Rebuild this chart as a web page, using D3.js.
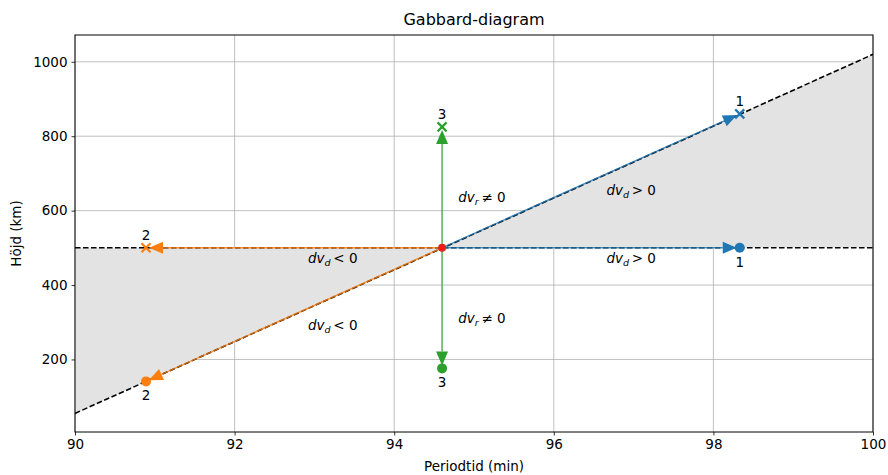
<!DOCTYPE html>
<html>
<head>
<meta charset="utf-8">
<script src="https://cdn.jsdelivr.net/npm/d3@7"></script>
<style>
  body { margin: 0; background: #fff; }
  svg text { font-family: "DejaVu Sans", sans-serif; fill: #000; }
</style>
</head>
<body>
<svg id="chart" width="888" height="475"></svg>
<script>
// axis ranges and ticks
const xDomain = [90, 100];
const yDomain = [5, 1072];
const xTicks = [90, 92, 94, 96, 98, 100];
const yTicks = [200, 400, 600, 800, 1000];

// the Gabbard line (height against period) and the reference height
const lineX = [90, 100];
const lineY = [55, 1020];
const refHeight = 500;

// starting point of the fragments
const center = { x: 94.6, y: 500 };

// fragments: label, colour, period, height, marker
const fragLabels = ['1', '1', '2', '2', '3', '3'];
const fragColors = ['#1f77b4', '#1f77b4', '#ff7f0e', '#ff7f0e', '#2ca02c', '#2ca02c'];
const fragX = [98.33, 98.33, 90.89, 90.89, 94.6, 94.6];
const fragY = [860, 500, 500, 141, 825, 176];
const fragMarker = ['x', 'o', 'x', 'o', 'x', 'o'];

// annotation texts
const noteSub = ['d', 'd', 'd', 'd', 'r', 'r'];
const noteRel = ['> 0', '> 0', '< 0', '< 0', '\u2260 0', '\u2260 0'];
const noteX = [96.97, 96.97, 93.23, 93.23, 95.1, 95.1];
const noteY = [656, 473, 473, 293, 637, 312];

const margin = { top: 35, right: 15, bottom: 43, left: 75 };
const width = 888, height = 475;

const svg = d3.select('#chart');

const x = d3.scaleLinear().domain(xDomain).range([margin.left, width - margin.right]);
const y = d3.scaleLinear().domain(yDomain).range([height - margin.bottom, margin.top]);

svg.append('defs').append('clipPath').attr('id', 'clip')
  .append('rect')
  .attr('x', margin.left).attr('y', margin.top)
  .attr('width', width - margin.left - margin.right)
  .attr('height', height - margin.top - margin.bottom);

// grid
const grid = svg.append('g');
grid.selectAll('line.gx').data(xTicks).join('line')
  .attr('x1', d => x(d)).attr('x2', d => x(d))
  .attr('y1', margin.top).attr('y2', height - margin.bottom)
  .attr('stroke', '#b0b0b0').attr('stroke-width', 0.8);
grid.selectAll('line.gy').data(yTicks).join('line')
  .attr('class', 'gy')
  .attr('y1', d => y(d)).attr('y2', d => y(d))
  .attr('x1', margin.left).attr('x2', width - margin.right)
  .attr('stroke', '#b0b0b0').attr('stroke-width', 0.8);

const plot = svg.append('g').attr('clip-path', 'url(#clip)');

// height on the Gabbard line at a given period
const lineAt = (p) => lineY[0] + (p - lineX[0]) * (lineY[1] - lineY[0]) / (lineX[1] - lineX[0]);

// shaded triangles between the two dashed lines
const shade = [
  [[lineX[0], refHeight], [center.x, refHeight], [lineX[0], lineAt(lineX[0])]],
  [[center.x, refHeight], [lineX[1], refHeight], [lineX[1], lineAt(lineX[1])]]
];
plot.selectAll('path.shade').data(shade).join('path')
  .attr('class', 'shade')
  .attr('d', d => d3.line().x(p => x(p[0])).y(p => y(p[1]))(d) + 'Z')
  .attr('fill', '#e3e3e3');

// dashed reference lines
plot.append('line')
  .attr('x1', x(lineX[0])).attr('y1', y(lineY[0]))
  .attr('x2', x(lineX[1])).attr('y2', y(lineY[1]))
  .attr('stroke', '#000').attr('stroke-width', 1.6).attr('stroke-dasharray', '5.5,2.5');
plot.append('line')
  .attr('x1', x(xDomain[0])).attr('y1', y(refHeight))
  .attr('x2', x(xDomain[1])).attr('y2', y(refHeight))
  .attr('stroke', '#000').attr('stroke-width', 1.6).attr('stroke-dasharray', '5.5,2.5');

// arrows from the centre towards each fragment
const cx = x(center.x), cy = y(center.y);
const headLen = 14, headHalf = 6, gap = 3;
const arrows = plot.append('g');
fragX.forEach((fx, i) => {
  const px = x(fx), py = y(fragY[i]);
  const dx = px - cx, dy = py - cy;
  const len = Math.sqrt(dx * dx + dy * dy);
  const ux = dx / len, uy = dy / len;
  const tipX = px - ux * gap, tipY = py - uy * gap;
  const baseX = tipX - ux * headLen, baseY = tipY - uy * headLen;
  arrows.append('line')
    .attr('x1', cx).attr('y1', cy)
    .attr('x2', baseX).attr('y2', baseY)
    .attr('stroke', fragColors[i]).attr('stroke-width', 1.5)
    .attr('opacity', 0.8);
  arrows.append('path')
    .attr('d', `M${tipX},${tipY}L${baseX - uy * headHalf},${baseY + ux * headHalf}L${baseX + uy * headHalf},${baseY - ux * headHalf}Z`)
    .attr('fill', fragColors[i]);
});

// centre point
plot.append('circle')
  .attr('cx', cx).attr('cy', cy).attr('r', 4)
  .attr('fill', '#e8201a');

// fragment markers
fragX.forEach((fx, i) => {
  const px = x(fx), py = y(fragY[i]);
  if (fragMarker[i] === 'o') {
    plot.append('circle').attr('cx', px).attr('cy', py).attr('r', 5).attr('fill', fragColors[i]);
  } else {
    const s = 4.5;
    plot.append('path')
      .attr('d', `M${px - s},${py - s}L${px + s},${py + s}M${px - s},${py + s}L${px + s},${py - s}`)
      .attr('stroke', fragColors[i]).attr('stroke-width', 2.2);
  }
  svg.append('text')
    .attr('x', px)
    .attr('y', fragMarker[i] === 'x' ? py - 8 : py + 19)
    .attr('text-anchor', 'middle')
    .style('font-size', '13.5px')
    .text(fragLabels[i]);
});

// annotations like dv_d > 0
noteX.forEach((nx, i) => {
  const t = svg.append('text')
    .attr('x', x(nx)).attr('y', y(noteY[i]) + 5)
    .attr('text-anchor', 'middle')
    .style('font-size', '13.5px');
  t.append('tspan').style('font-style', 'italic').text('dv');
  t.append('tspan').style('font-style', 'italic').style('font-size', '9.5px').attr('dy', 3).text(noteSub[i]);
  t.append('tspan').attr('dy', -3).text('\u2009' + noteRel[i]);
});

// axes
const xAxis = svg.append('g')
  .attr('transform', `translate(0,${height - margin.bottom})`)
  .call(d3.axisBottom(x).tickValues(xTicks).tickSize(3.5).tickPadding(4).tickFormat(d3.format('d')));
const yAxis = svg.append('g')
  .attr('transform', `translate(${margin.left},0)`)
  .call(d3.axisLeft(y).tickValues(yTicks).tickSize(3.5).tickPadding(4).tickFormat(d3.format('d')));
[xAxis, yAxis].forEach(a => {
  a.select('.domain').remove();
  a.selectAll('text').style('font-size', '13.5px').attr('font-family', null);
  a.selectAll('line').attr('stroke', '#000').attr('stroke-width', 0.8);
});

// frame
svg.append('rect')
  .attr('x', margin.left).attr('y', margin.top)
  .attr('width', width - margin.left - margin.right)
  .attr('height', height - margin.top - margin.bottom)
  .attr('fill', 'none').attr('stroke', '#000').attr('stroke-width', 1);

// titles
svg.append('text')
  .attr('x', (margin.left + width - margin.right) / 2).attr('y', 25)
  .attr('text-anchor', 'middle').style('font-size', '16px')
  .text('Gabbard-diagram');
svg.append('text')
  .attr('x', (margin.left + width - margin.right) / 2).attr('y', 471)
  .attr('text-anchor', 'middle').style('font-size', '13.5px')
  .text('Periodtid (min)');
svg.append('text')
  .attr('transform', `translate(21,${(margin.top + height - margin.bottom) / 2}) rotate(-90)`)
  .attr('text-anchor', 'middle').style('font-size', '13.5px')
  .text('Höjd (km)');
</script>
</body>
</html>
